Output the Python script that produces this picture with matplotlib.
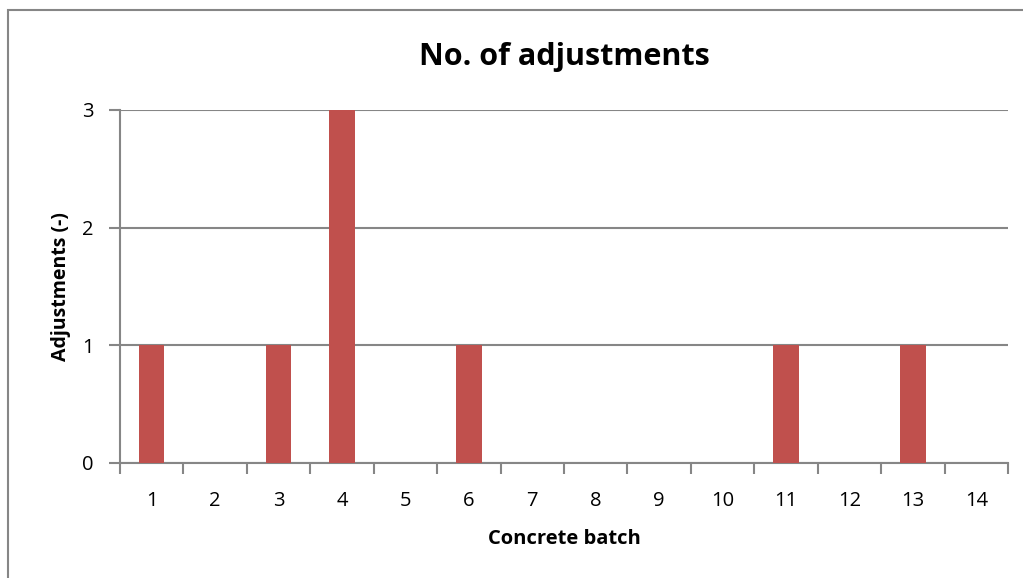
import matplotlib.pyplot as plt
from matplotlib.patches import Rectangle

# Adjustments made per concrete batch
batches = list(range(1, 15))
adjustments = [1, 0, 1, 3, 0, 1, 0, 0, 0, 0, 1, 0, 1, 0]

grey = "#868686"
bar_color = "#C0504D"

plt.rcParams["font.family"] = ["Open Sans", "DejaVu Sans"]

fig = plt.figure(figsize=(10.23, 5.78), dpi=100)
ax = fig.add_axes([0.1173, 0.199, 0.868, 0.611])

x = [b - 0.5 for b in batches]
ax.bar(x, adjustments, width=0.4, color=bar_color, zorder=3)

ax.set_xlim(0, len(batches))
ax.set_ylim(0, 3)
ax.set_yticks([0, 1, 2, 3])
ax.set_xticks(range(len(batches) + 1))
ax.set_xticklabels([])
ax.set_xticks(x, minor=True)
ax.set_xticklabels([str(b) for b in batches], minor=True)
ax.tick_params(axis="x", which="major", length=8, width=1.5, color=grey, direction="out")
ax.tick_params(axis="x", which="minor", length=0, pad=20, labelsize=14.5)
ax.tick_params(axis="y", length=8, width=1.5, color=grey, labelsize=14.5, pad=11)

ax.grid(axis="y", color=grey, linewidth=1.5, zorder=0)
for side in ["top", "right"]:
    ax.spines[side].set_visible(False)
for side in ["left", "bottom"]:
    ax.spines[side].set_color(grey)
    ax.spines[side].set_linewidth(1.5)

ax.set_title("No. of adjustments", fontsize=22, fontweight="bold", pad=32)
ax.set_xlabel("Concrete batch", fontsize=14.5, fontweight="bold", labelpad=13)
ax.set_ylabel("Adjustments (-)", fontsize=14, fontweight="bold", labelpad=8)

# chart border
fig.patches.append(Rectangle((8 / 1023, -0.1), 1.2, 1 - 10 / 578 + 0.1,
                             transform=fig.transFigure, fill=False,
                             edgecolor=grey, linewidth=1.5))

fig.savefig("out.png", dpi=100)
